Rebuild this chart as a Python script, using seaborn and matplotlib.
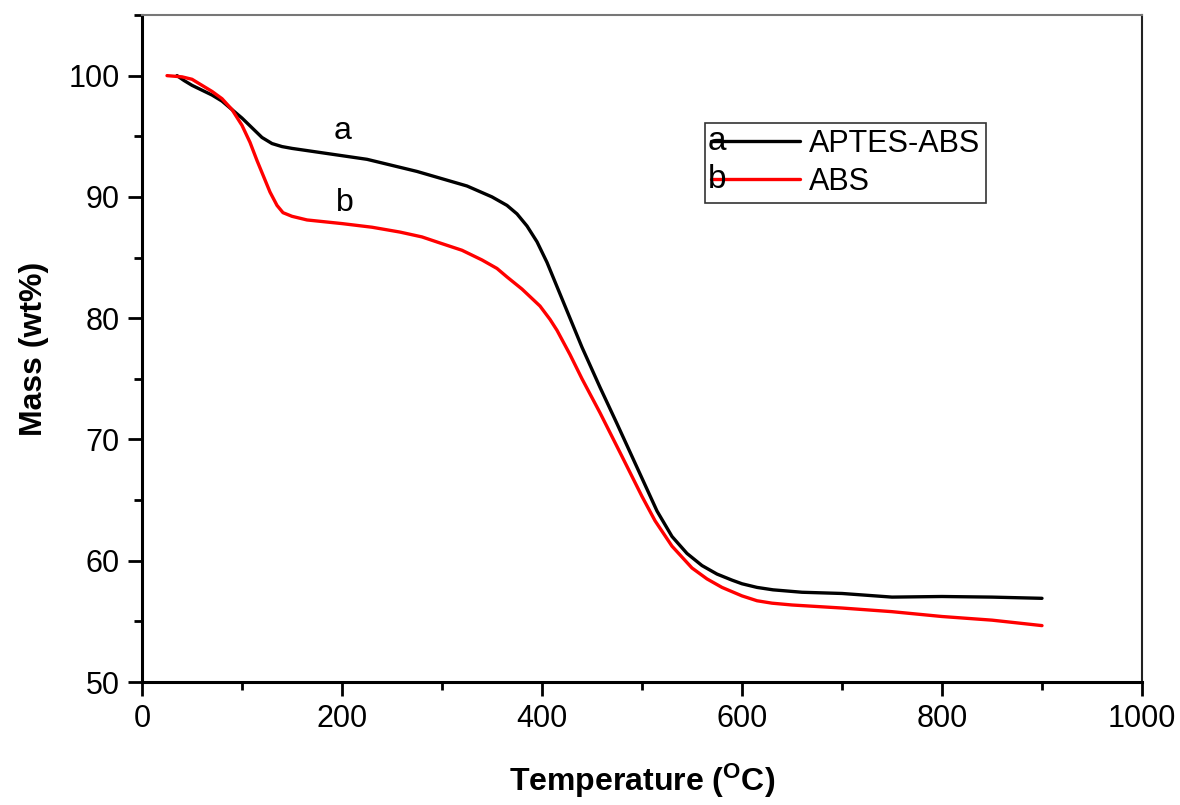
import matplotlib
matplotlib.use("Agg")
import matplotlib.pyplot as plt
import seaborn as sns
import pandas as pd
from matplotlib.lines import Line2D
from matplotlib.ticker import MultipleLocator

# ---- data ----
temp_a = [35, 42, 50, 60, 70, 80, 90, 100, 110, 120, 130, 140, 150, 175, 200, 225, 250, 275, 300, 325,
          350, 365, 375, 385, 395, 405, 415, 425, 440, 458, 475, 500, 515, 530, 545, 560, 575, 590, 600,
          615, 631, 660, 700, 750, 800, 850, 900]
mass_a = [100.0, 99.6, 99.2, 98.8, 98.4, 97.9, 97.2, 96.5, 95.7, 94.9, 94.4, 94.15, 94.0, 93.7, 93.4, 93.1, 92.6, 92.1, 91.5, 90.9,
          90.0, 89.3, 88.6, 87.6, 86.3, 84.6, 82.6, 80.6, 77.6, 74.3, 71.3, 66.8, 64.1, 62.0, 60.6, 59.6, 58.9, 58.4, 58.1,
          57.8, 57.6, 57.4, 57.3, 57.0, 57.05, 57.0, 56.9]

temp_b = [25, 40, 50, 60, 70, 80, 90, 100, 108, 115, 122, 128, 135, 141, 150, 165, 200, 230, 258, 280,
          298, 320, 340, 355, 365, 380, 398, 408, 415, 428, 440, 458, 480, 500, 513, 530, 550, 565, 580,
          600, 615, 630, 650, 700, 750, 800, 850, 900]
mass_b = [100.0, 99.9, 99.7, 99.2, 98.7, 98.1, 97.2, 95.9, 94.5, 93.0, 91.6, 90.4, 89.3, 88.7, 88.4, 88.1, 87.8, 87.5, 87.1, 86.7,
          86.2, 85.6, 84.8, 84.1, 83.4, 82.4, 81.0, 79.9, 79.0, 77.0, 75.0, 72.2, 68.6, 65.3, 63.3, 61.2, 59.4, 58.5, 57.8,
          57.1, 56.7, 56.5, 56.35, 56.1, 55.8, 55.4, 55.1, 54.65]

labels = ["APTES-ABS", "ABS"]
letters = ["a", "b"]
colors = ["#000000", "#ff0000"]
x_ticks = [0, 200, 400, 600, 800, 1000]
y_ticks = [50, 60, 70, 80, 90, 100]

df = pd.concat([
    pd.DataFrame({"T": temp_a, "M": mass_a, "s": labels[0]}),
    pd.DataFrame({"T": temp_b, "M": mass_b, "s": labels[1]}),
])

sns.set_style("white")
plt.rcParams["font.family"] = ["Liberation Sans", "DejaVu Sans"]
plt.rcParams["mathtext.fontset"] = "custom"
plt.rcParams["mathtext.rm"] = "Liberation Sans"
plt.rcParams["mathtext.bf"] = "Liberation Sans:bold"
for k in ["text.color", "axes.labelcolor", "xtick.color", "ytick.color"]:
    plt.rcParams[k] = "black"

fig = plt.figure(figsize=(11.8, 8.05), dpi=100)
ax = fig.add_axes([142/1180, 1-682/805, 1000/1180, 667/805])

sns.lineplot(data=df, x="T", y="M", hue="s", palette=dict(zip(labels, colors)),
             sort=False, estimator=None, linewidth=2.4, legend=False, ax=ax)
for ln in ax.lines:
    ln.set_solid_joinstyle("round")
    ln.set_solid_capstyle("round")

ax.set_xlim(0, 1000)
ax.set_ylim(50, 105)
ax.set_xticks(x_ticks)
ax.set_yticks(y_ticks)
ax.xaxis.set_minor_locator(MultipleLocator(100))
ax.yaxis.set_minor_locator(MultipleLocator(5))
ax.tick_params(axis="both", which="major", direction="out", length=10, width=2, labelsize=22,
               bottom=True, left=True, top=False, right=False, pad=6)
ax.tick_params(axis="both", which="minor", direction="out", length=6, width=2,
               bottom=True, left=True, top=False, right=False)

for side in ["left", "bottom"]:
    ax.spines[side].set_linewidth(2.2)
    ax.spines[side].set_color("black")
ax.spines["right"].set_linewidth(1.5)
ax.spines["right"].set_color("#222222")
ax.spines["top"].set_linewidth(1.5)
ax.spines["top"].set_color("#777777")

ax.set_xlabel(r"Temperature ($\mathbf{^{O}}$C)", fontsize=23, fontweight="bold", labelpad=20)
ax.set_ylabel("Mass (wt%)", fontsize=23, fontweight="bold", labelpad=14)

# curve letters
ax.text(201, 94.2, letters[0], fontsize=23, ha="center", va="bottom")
ax.text(203, 88.3, letters[1], fontsize=23, ha="center", va="bottom")

# legend
handles = [Line2D([], [], color=c, lw=2.4) for c in colors]
leg = ax.legend(handles, labels, loc="upper left", bbox_to_anchor=(0.563, 0.838),
                frameon=True, fontsize=22, handlelength=2.9, handletextpad=0.3,
                borderpad=0.2, labelspacing=0.25, borderaxespad=0, fancybox=False)
leg.get_frame().set_edgecolor("black")
leg.get_frame().set_linewidth(1.2)
fig.canvas.draw()
for h, letter in zip(leg.legend_handles, letters):
    bb = h.get_window_extent()
    xp, yp = bb.x0, (bb.y0 + bb.y1) / 2
    ax.annotate(letter, xy=(xp - 3, yp), xycoords="figure pixels", fontsize=24,
                ha="left", va="center", zorder=10)

fig.savefig("out.png", dpi=100, facecolor="white")
